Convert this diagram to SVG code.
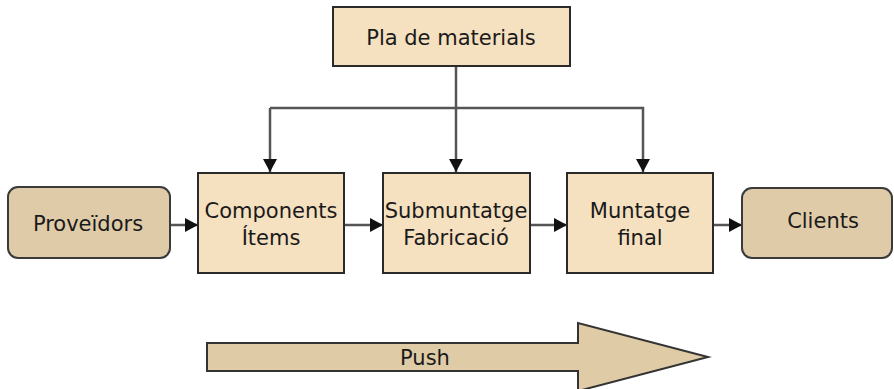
<svg xmlns="http://www.w3.org/2000/svg" width="894" height="389" viewBox="0 0 894 389">
<style>
.box{fill:#F5E0BF;stroke:#2a2a2a;stroke-width:2}
.end{fill:#E0CBA8;stroke:#3a3a3a;stroke-width:2}
.t{font-family:"DejaVu Sans",sans-serif;font-size:21px;fill:#1a1a1a;text-anchor:middle}
.c{fill:none;stroke:#555;stroke-width:2.5}
</style>
<defs>
<marker id="ah" markerWidth="13" markerHeight="14" refX="13" refY="7" orient="auto" markerUnits="userSpaceOnUse">
<path d="M0,0 L13,7 L0,14 Z" fill="#111"/>
</marker>
</defs>
<rect width="894" height="389" fill="#fff"/>
<g id="connectors">
<line class="c" x1="456" y1="66" x2="456" y2="172" marker-end="url(#ah)"/>
<polyline class="c" points="270,108 643,108 643,172" marker-end="url(#ah)"/>
<line class="c" x1="270" y1="108" x2="270" y2="172" marker-end="url(#ah)"/>
<line class="c" x1="170" y1="225" x2="198" y2="225" marker-end="url(#ah)"/>
<line class="c" x1="344" y1="225" x2="383" y2="225" marker-end="url(#ah)"/>
<line class="c" x1="530" y1="225" x2="567" y2="225" marker-end="url(#ah)"/>
<line class="c" x1="713" y1="225" x2="742" y2="225" marker-end="url(#ah)"/>
</g>
<g id="pla">
<rect class="box" x="333" y="7" width="237" height="59"/>
<text class="t" x="451" y="45">Pla de materials</text>
</g>
<g id="proveidors">
<rect class="end" x="8" y="187" width="162" height="71" rx="10"/>
<text class="t" x="88" y="231">Proveïdors</text>
</g>
<g id="components">
<rect class="box" x="198" y="173" width="146" height="100"/>
<text class="t" x="271" y="218">Components</text>
<text class="t" x="271" y="245">Ítems</text>
</g>
<g id="submuntatge">
<rect class="box" x="383" y="173" width="147" height="100"/>
<text class="t" x="456" y="218">Submuntatge</text>
<text class="t" x="456" y="245">Fabricació</text>
</g>
<g id="muntatge">
<rect class="box" x="567" y="173" width="146" height="100"/>
<text class="t" x="640" y="218">Muntatge</text>
<text class="t" x="640" y="245">final</text>
</g>
<g id="clients">
<rect class="end" x="742" y="188" width="150" height="70" rx="10"/>
<text class="t" x="823" y="228">Clients</text>
</g>
<g id="push">
<polygon points="207,343 578,343 578,323 708,357 578,391 578,371 207,371" fill="#DFCBA6" stroke="#333" stroke-width="2"/>
<text class="t" x="425" y="365">Push</text>
</g>
</svg>
